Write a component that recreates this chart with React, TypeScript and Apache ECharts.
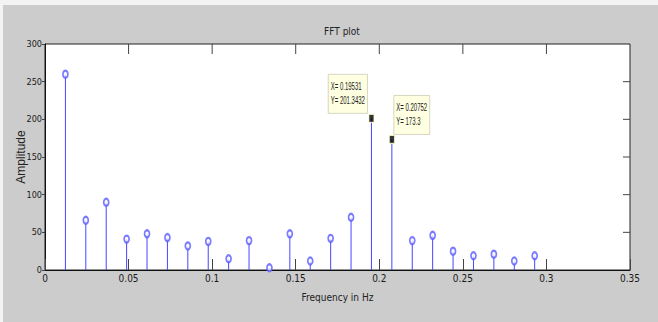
import React, { useEffect, useRef } from "react";
import * as echarts from "echarts";

// Spectrum bins (Hz) and their FFT magnitudes
const frequencies = [
  0.01221, 0.02441, 0.03662, 0.04883, 0.06104, 0.07324, 0.08545, 0.09766,
  0.10986, 0.12207, 0.13428, 0.14648, 0.15869, 0.1709, 0.18311, 0.19531,
  0.20752, 0.21973, 0.23193, 0.24414, 0.25635, 0.26855, 0.28076, 0.29297,
];
const amplitudes = [
  260, 66, 90, 41, 48, 43, 32, 38, 15, 39, 3, 48, 12, 42, 70, 201.3432,
  173.3, 39, 46, 25, 19, 21, 12, 19,
];
// Bins that carry a data tip, and which side of the point the tip sits on
const tipIndices = [15, 16];
const tipSides = ["left", "right"];

// Axis ticks (the box's top and right edges repeat them, pointing inwards)
const xTickValues = [0.05, 0.1, 0.15, 0.2, 0.25, 0.3];
const yTickValues = [50, 100, 150, 200, 250];
const xRange = { min: 0, max: 0.35, interval: 0.05 };
const yRange = { min: 0, max: 300, interval: 50 };

const CONDENSED = "'DejaVu Sans Condensed', 'Liberation Sans', sans-serif";
const TIP_FONT_SIZE = 10;
const TIP_FONT = `${TIP_FONT_SIZE}px 'Liberation Sans', Arial, sans-serif`;
const TIP_SCALE_X = 0.6;
const STEM = "#4646ff";
const MARKER = "#5a5aff";
const TICK = "#444";

function measure(text: string): number {
  const ctx = document.createElement("canvas").getContext("2d");
  if (!ctx) return text.length * TIP_FONT_SIZE * 0.55;
  ctx.font = TIP_FONT;
  return ctx.measureText(text).width;
}

export default function App() {
  const ref = useRef<HTMLDivElement>(null);

  useEffect(() => {
    document.body.style.margin = "0";
    if (!ref.current) return;
    const chart = echarts.init(ref.current, undefined, { renderer: "svg" });

    const points = frequencies.map((f, i) => [f, amplitudes[i]]);
    const circles = points.filter((_, i) => !tipIndices.includes(i));
    const tipPoints = tipIndices.map((idx) => points[idx]);

    const frameStrips = [
      { type: "rect", left: 0, top: 0, shape: { width: 658, height: 5 }, style: { fill: "#f3f3f3" }, z: 0 },
      { type: "rect", left: 0, top: 0, shape: { width: 3, height: 322 }, style: { fill: "#f3f3f3" }, z: 0 },
    ];

    chart.setOption({
      animation: false,
      backgroundColor: "#cccccc",
      title: {
        text: "FFT plot",
        left: 337,
        top: 21,
        textAlign: "center",
        textStyle: { fontFamily: CONDENSED, fontSize: 10, fontWeight: "normal", color: "#222" },
      },
      graphic: frameStrips,
      grid: {
        left: 45,
        right: 28,
        top: 44,
        bottom: 52,
        containLabel: false,
        outerBoundsMode: "none",
        show: true,
        backgroundColor: "#ffffff",
        borderColor: "#222",
        borderWidth: 1,
      },
      xAxis: {
        type: "value",
        ...xRange,
        name: "Frequency in Hz",
        nameLocation: "middle",
        nameGap: 22,
        nameMoveOverlap: false,
        nameTextStyle: { fontFamily: CONDENSED, fontSize: 10, color: "#222" },
        axisLine: { show: true, onZero: false, lineStyle: { color: "#111" } },
        axisTick: { show: true, inside: true, length: 11, lineStyle: { color: TICK } },
        axisLabel: { fontFamily: CONDENSED, fontSize: 10, color: "#1a1a1a", margin: 3 },
        splitLine: { show: false },
      },
      yAxis: {
        type: "value",
        ...yRange,
        name: "Amplitude",
        nameLocation: "middle",
        nameGap: 18,
        nameMoveOverlap: false,
        nameTextStyle: { fontFamily: "'Liberation Sans', sans-serif", fontSize: 12, color: "#222" },
        axisLine: { show: true, onZero: false, lineStyle: { color: "#111" } },
        axisTick: { show: true, inside: false, length: 3, lineStyle: { color: TICK } },
        axisLabel: { fontFamily: CONDENSED, fontSize: 9, color: "#1a1a1a", margin: 3 },
        splitLine: { show: false },
      },
      series: [
        {
          // stems
          type: "custom",
          data: points,
          renderItem: (params: any, api: any) => {
            const base = api.coord([api.value(0), 0]);
            const top = api.coord([api.value(0), api.value(1)]);
            return {
              type: "line",
              shape: { x1: base[0], y1: base[1], x2: top[0], y2: top[1] },
              style: { stroke: STEM, lineWidth: 1 },
            };
          },
          silent: true,
        },
        {
          type: "scatter",
          data: circles,
          symbol: "emptyCircle",
          symbolSize: [5, 7],
          itemStyle: { color: MARKER, borderColor: MARKER, borderWidth: 0.9 },
          silent: true,
        },
        {
          type: "scatter",
          data: tipPoints,
          symbol: "rect",
          symbolSize: [5, 8],
          itemStyle: { color: "#000", borderColor: "#ffffc8", borderWidth: 1 },
          z: 5,
          silent: true,
        },
      ],
    });

    const toPx = (v: number[]) =>
      chart.convertToPixel({ xAxisIndex: 0, yAxisIndex: 0 }, v) as number[];

    // Inward ticks on the top and right edges of the box
    const edgeTicks = [
      ...xTickValues.map((v) => {
        const [px, py] = toPx([v, yRange.max]);
        return {
          type: "line",
          shape: { x1: px, y1: py, x2: px, y2: py + 10 },
          style: { stroke: TICK, lineWidth: 1 },
          z: 4,
          silent: true,
        };
      }),
      ...yTickValues.map((v) => {
        const [px, py] = toPx([xRange.max, v]);
        return {
          type: "line",
          shape: { x1: px, y1: py, x2: px - 7, y2: py },
          style: { stroke: TICK, lineWidth: 1 },
          z: 4,
          silent: true,
        };
      }),
    ];

    // Data-tip boxes, anchored to the tipped points through the axes' scales
    const tipGraphics = tipIndices.map((idx, j) => {
      const [fx, fy] = points[idx];
      const [px, py] = toPx([fx, fy]);
      const lines = [`X= ${fx}`, `Y= ${fy}`];
      const textW = Math.max(...lines.map(measure)) * TIP_SCALE_X;
      const boxW = textW + 5;
      const boxH = 39;
      const boxX = tipSides[j] === "left" ? px - 4 - boxW : px + 2;
      const boxY = py - 5 - boxH;
      return {
        type: "group",
        x: boxX,
        y: boxY,
        z: 10,
        silent: true,
        children: [
          {
            type: "rect",
            shape: { x: 0, y: 0, width: boxW, height: boxH },
            style: { fill: "#ffffe1", stroke: "#d6d6c2", lineWidth: 1 },
          },
          ...lines.map((line, k) => ({
            type: "text",
            x: 2.5,
            y: 12.5 + k * 14,
            scaleX: TIP_SCALE_X,
            style: {
              text: line,
              font: TIP_FONT,
              fill: "#222",
              align: "left",
              verticalAlign: "middle",
            },
          })),
        ],
      };
    });

    chart.setOption({ graphic: [...frameStrips, ...edgeTicks, ...tipGraphics] });

    return () => chart.dispose();
  }, []);

  return <div ref={ref} style={{ width: 658, height: 322 }} />;
}
